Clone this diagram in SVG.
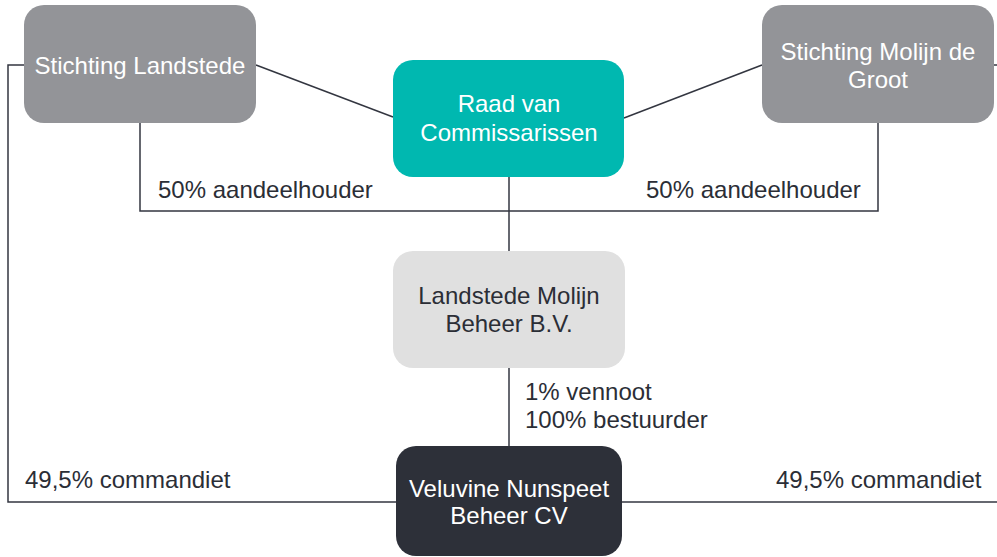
<svg xmlns="http://www.w3.org/2000/svg" width="997" height="557" viewBox="0 0 997 557">
<style>
text{font-family:"Liberation Sans",Arial,sans-serif;font-size:24px;text-anchor:middle}
.w{fill:#ffffff}
.d{fill:#2b2e36}
.lbl{text-anchor:start;fill:#2b2e36}
.c{fill:none;stroke:#333640;stroke-width:1.5}
</style>
<rect width="997" height="557" fill="#ffffff"/>
<g id="connectors">
<path class="c" d="M24,65 H8 V502 H396"/>
<path class="c" d="M622,502 H998"/>
<path class="c" d="M994,65 H998"/>
<path class="c" d="M256,65 L393,117"/>
<path class="c" d="M624,118 L762,65"/>
<path class="c" d="M140,123 V211 H878 V123"/>
<path class="c" d="M509,177 V251"/>
<path class="c" d="M509,368 V446"/>
</g>
<g id="labels">
<text class="lbl" x="158" y="198">50% aandeelhouder</text>
<text class="lbl" x="646" y="198">50% aandeelhouder</text>
<text class="lbl" x="525" y="400">1% vennoot</text>
<text class="lbl" x="525" y="428">100% bestuurder</text>
<text class="lbl" x="25" y="488">49,5% commandiet</text>
<text class="lbl" x="776" y="488">49,5% commandiet</text>
</g>
<g id="stichting-landstede">
<rect x="24" y="5" width="232" height="118" rx="20" fill="#939498"/>
<text class="w" x="140" y="74">Stichting Landstede</text>
</g>
<g id="raad-van-commissarissen">
<rect x="393" y="60" width="231" height="117" rx="20" fill="#00b8b0"/>
<text class="w" x="509" y="112">Raad van</text>
<text class="w" x="509" y="141">Commissarissen</text>
</g>
<g id="stichting-molijn">
<rect x="762" y="5" width="232" height="118" rx="20" fill="#939498"/>
<text class="w" x="878" y="60">Stichting Molijn de</text>
<text class="w" x="878" y="88">Groot</text>
</g>
<g id="landstede-molijn-beheer">
<rect x="393" y="251" width="232" height="117" rx="20" fill="#e0e0e0"/>
<text class="d" x="509" y="304">Landstede Molijn</text>
<text class="d" x="509" y="332">Beheer B.V.</text>
</g>
<g id="veluvine-nunspeet">
<rect x="396" y="446" width="226" height="110" rx="20" fill="#2d3039"/>
<text class="w" x="509" y="497">Veluvine Nunspeet</text>
<text class="w" x="509" y="524">Beheer CV</text>
</g>
</svg>
